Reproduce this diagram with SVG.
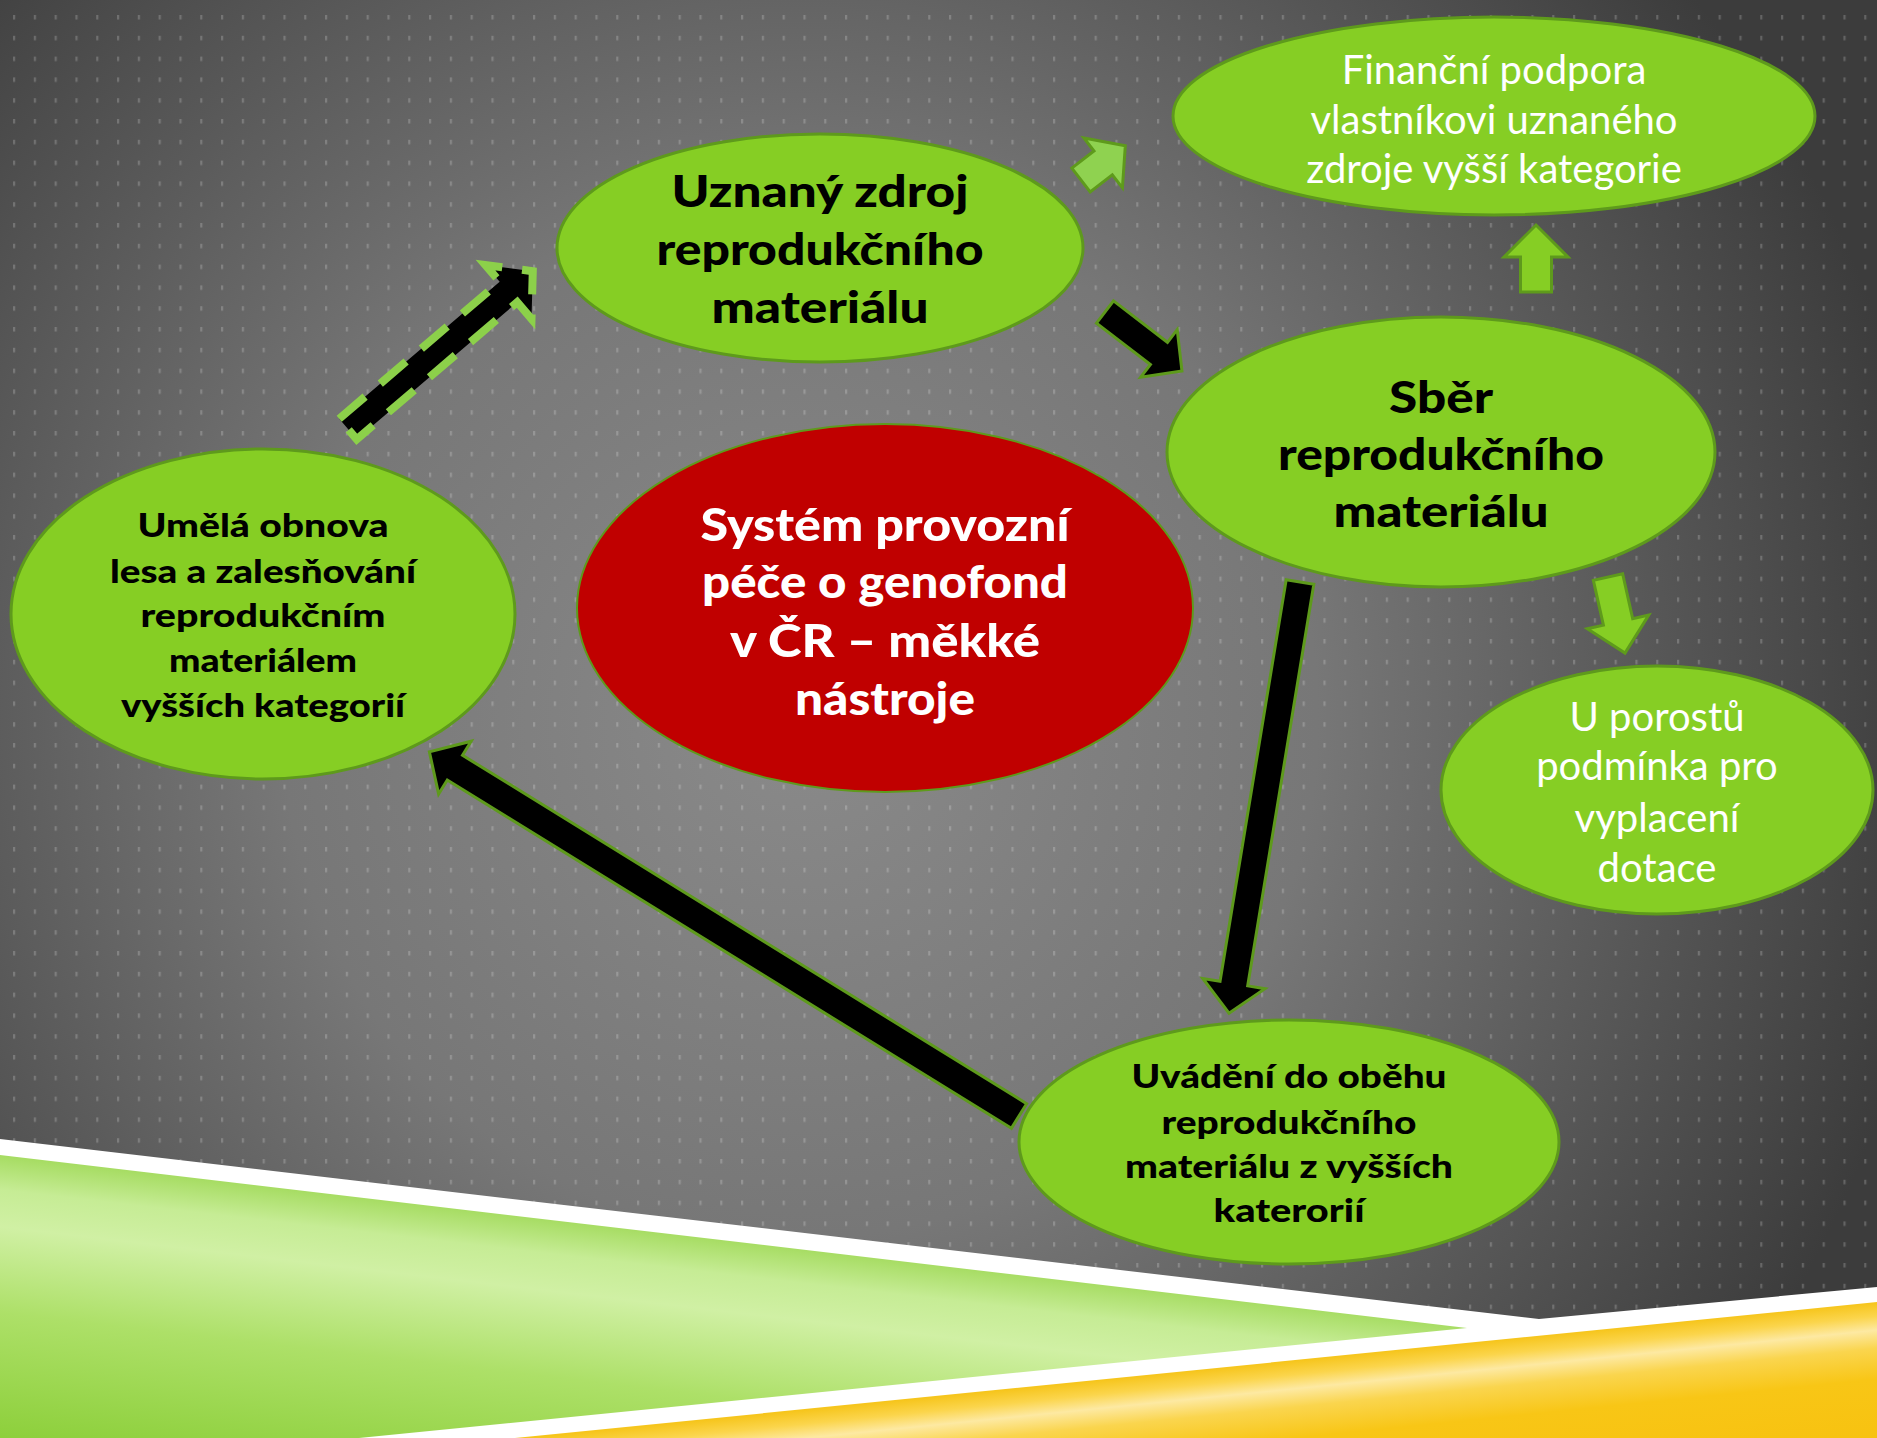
<svg xmlns="http://www.w3.org/2000/svg" width="1877" height="1438" viewBox="0 0 1877 1438">
<defs>
<radialGradient id="bg" gradientUnits="userSpaceOnUse" cx="800" cy="720" r="1150">
<stop offset="0" stop-color="#8a8a8a"/>
<stop offset="0.45" stop-color="#777777"/>
<stop offset="1" stop-color="#3c3c3c"/>
</radialGradient>
<pattern id="dots" patternUnits="userSpaceOnUse" x="13" y="15" width="20.8" height="20.8">
<rect x="0" y="0" width="2.2" height="4.5" fill="#ffffff" fill-opacity="0.2"/>
</pattern>
<linearGradient id="gr" gradientUnits="userSpaceOnUse" x1="0" y1="1155" x2="-33" y2="1438">
<stop offset="0" stop-color="#a6dc62"/>
<stop offset="0.12" stop-color="#c6ec95"/>
<stop offset="0.25" stop-color="#d0f0a4"/>
<stop offset="0.55" stop-color="#ade068"/>
<stop offset="1" stop-color="#8ccf3a"/>
</linearGradient>
<linearGradient id="yl" gradientUnits="userSpaceOnUse" x1="1877" y1="1302" x2="1891" y2="1441">
<stop offset="0" stop-color="#f6c51c"/>
<stop offset="0.1" stop-color="#fbd54c"/>
<stop offset="0.2" stop-color="#fde9a2"/>
<stop offset="0.33" stop-color="#fad54e"/>
<stop offset="0.55" stop-color="#f8c616"/>
<stop offset="1" stop-color="#f7c210"/>
</linearGradient>
<style>
.node{fill:#86ce24;stroke:#5e9a1c;stroke-width:3}
.red{fill:#c00000;stroke:#5e9a1c;stroke-width:2}
.blk{fill:#000000;stroke:#5e9a1c;stroke-width:3;stroke-linejoin:miter}
.gra{fill:#86ce24;stroke:#5e9a1c;stroke-width:3}
.lgr{fill:#8fd250;stroke:#5e9a1c;stroke-width:3}
.dash{fill:#000000;stroke:#8cd04a;stroke-width:8;stroke-dasharray:34 20}
.tb{font-family:Lato,"Open Sans","Liberation Sans",sans-serif;font-weight:900;text-anchor:middle;fill:#000000}
.tr{font-family:Lato,"Open Sans","Liberation Sans",sans-serif;font-weight:900;text-anchor:middle;fill:#ffffff}
.tw{font-family:Lato,"Open Sans","Liberation Sans",sans-serif;text-anchor:middle;fill:#ffffff}
</style>
</defs>
<rect x="0" y="0" width="1877" height="1438" fill="url(#bg)"/>
<rect x="0" y="0" width="1877" height="1438" fill="url(#dots)"/>
<polygon points="0,1139 1539,1319 1877,1287 1877,1438 0,1438" fill="#ffffff"/>
<polygon points="0,1155 1467,1328 359,1438 0,1438" fill="url(#gr)"/>
<polygon points="1877,1302 515,1438 1877,1438" fill="url(#yl)"/>

<g id="connectors">
<path class="dash" transform="translate(348,429) rotate(-40.5)" d="M0,-13.5 L211,-13.5 L211,-35.5 L243,0 L211,35.5 L211,13.5 L0,13.5 Z"/>
<path class="lgr" transform="translate(1081,180) rotate(-37.7)" d="M0,-15 L28,-15 L28,-31.5 L56,0 L28,31.5 L28,15 L0,15 Z"/>
<path class="blk" transform="translate(1105,312) rotate(37.5)" d="M0,-14 L68,-14 L68,-30 L97,0 L68,30 L68,14 L0,14 Z"/>
<path class="gra" transform="translate(1536,292) rotate(-90)" d="M0,-15.5 L35,-15.5 L35,-32 L67,0 L35,32 L35,15.5 L0,15.5 Z"/>
<path class="gra" transform="translate(1608,577) rotate(77.4)" d="M0,-15 L46,-15 L46,-31.5 L78,0 L46,31.5 L46,15 L0,15 Z"/>
<path class="blk" transform="translate(1300,582) rotate(99.35)" d="M0,-14 L407,-14 L407,-31.5 L437,0 L407,31.5 L407,14 L0,14 Z"/>
<path class="blk" transform="translate(1019,1116) rotate(211.7)" d="M0,-14.5 L663,-14.5 L663,-31 L693,0 L663,31 L663,14.5 L0,14.5 Z"/>
</g>

<g id="uznany">
<ellipse class="node" cx="820" cy="248" rx="263" ry="114"/>
<text class="tb" font-size="44" x="820" y="207" textLength="297" lengthAdjust="spacingAndGlyphs">Uznaný zdroj</text>
<text class="tb" font-size="44" x="820" y="265" textLength="327" lengthAdjust="spacingAndGlyphs">reprodukčního</text>
<text class="tb" font-size="44" x="820" y="323" textLength="217" lengthAdjust="spacingAndGlyphs">materiálu</text>
</g>
<g id="financni">
<ellipse class="node" cx="1494" cy="116" rx="321" ry="99"/>
<text class="tw" font-size="40"><tspan x="1494" y="84">Finanční podpora</tspan><tspan x="1494" y="134">vlastníkovi uznaného</tspan><tspan x="1494" y="183">zdroje vyšší kategorie</tspan></text>
</g>
<g id="sber">
<ellipse class="node" cx="1441" cy="452" rx="274" ry="135"/>
<text class="tb" font-size="44" x="1441" y="413" textLength="104" lengthAdjust="spacingAndGlyphs">Sběr</text>
<text class="tb" font-size="44" x="1441" y="470" textLength="326" lengthAdjust="spacingAndGlyphs">reprodukčního</text>
<text class="tb" font-size="44" x="1441" y="527" textLength="215" lengthAdjust="spacingAndGlyphs">materiálu</text>
</g>
<g id="porostu">
<ellipse class="node" cx="1657" cy="790" rx="216" ry="124"/>
<text class="tw" font-size="40"><tspan x="1657" y="731">U porostů</tspan><tspan x="1657" y="780">podmínka pro</tspan><tspan x="1657" y="832">vyplacení</tspan><tspan x="1657" y="882">dotace</tspan></text>
</g>
<g id="umela">
<ellipse class="node" cx="263" cy="614" rx="252" ry="165"/>
<text class="tb" font-size="33" x="263" y="537" textLength="251" lengthAdjust="spacingAndGlyphs">Umělá obnova</text>
<text class="tb" font-size="33" x="263" y="583" textLength="306" lengthAdjust="spacingAndGlyphs">lesa a zalesňování</text>
<text class="tb" font-size="33" x="263" y="627" textLength="245" lengthAdjust="spacingAndGlyphs">reprodukčním</text>
<text class="tb" font-size="33" x="263" y="672" textLength="188" lengthAdjust="spacingAndGlyphs">materiálem</text>
<text class="tb" font-size="33" x="263" y="717" textLength="284" lengthAdjust="spacingAndGlyphs">vyšších kategorií</text>
</g>
<g id="system">
<ellipse class="red" cx="885" cy="608" rx="308" ry="184"/>
<text class="tr" font-size="46" x="885" y="541" textLength="369" lengthAdjust="spacingAndGlyphs">Systém provozní</text>
<text class="tr" font-size="46" x="885" y="598" textLength="366" lengthAdjust="spacingAndGlyphs">péče o genofond</text>
<text class="tr" font-size="46" x="885" y="657" textLength="310" lengthAdjust="spacingAndGlyphs">v ČR – měkké</text>
<text class="tr" font-size="46" x="885" y="715" textLength="180" lengthAdjust="spacingAndGlyphs">nástroje</text>
</g>
<g id="uvadeni">
<ellipse class="node" cx="1289" cy="1142" rx="270" ry="122"/>
<text class="tb" font-size="33" x="1289" y="1088" textLength="315" lengthAdjust="spacingAndGlyphs">Uvádění do oběhu</text>
<text class="tb" font-size="33" x="1289" y="1134" textLength="255" lengthAdjust="spacingAndGlyphs">reprodukčního</text>
<text class="tb" font-size="33" x="1289" y="1178" textLength="328" lengthAdjust="spacingAndGlyphs">materiálu z vyšších</text>
<text class="tb" font-size="33" x="1289" y="1222" textLength="151" lengthAdjust="spacingAndGlyphs">katerorií</text>
</g>
</svg>
